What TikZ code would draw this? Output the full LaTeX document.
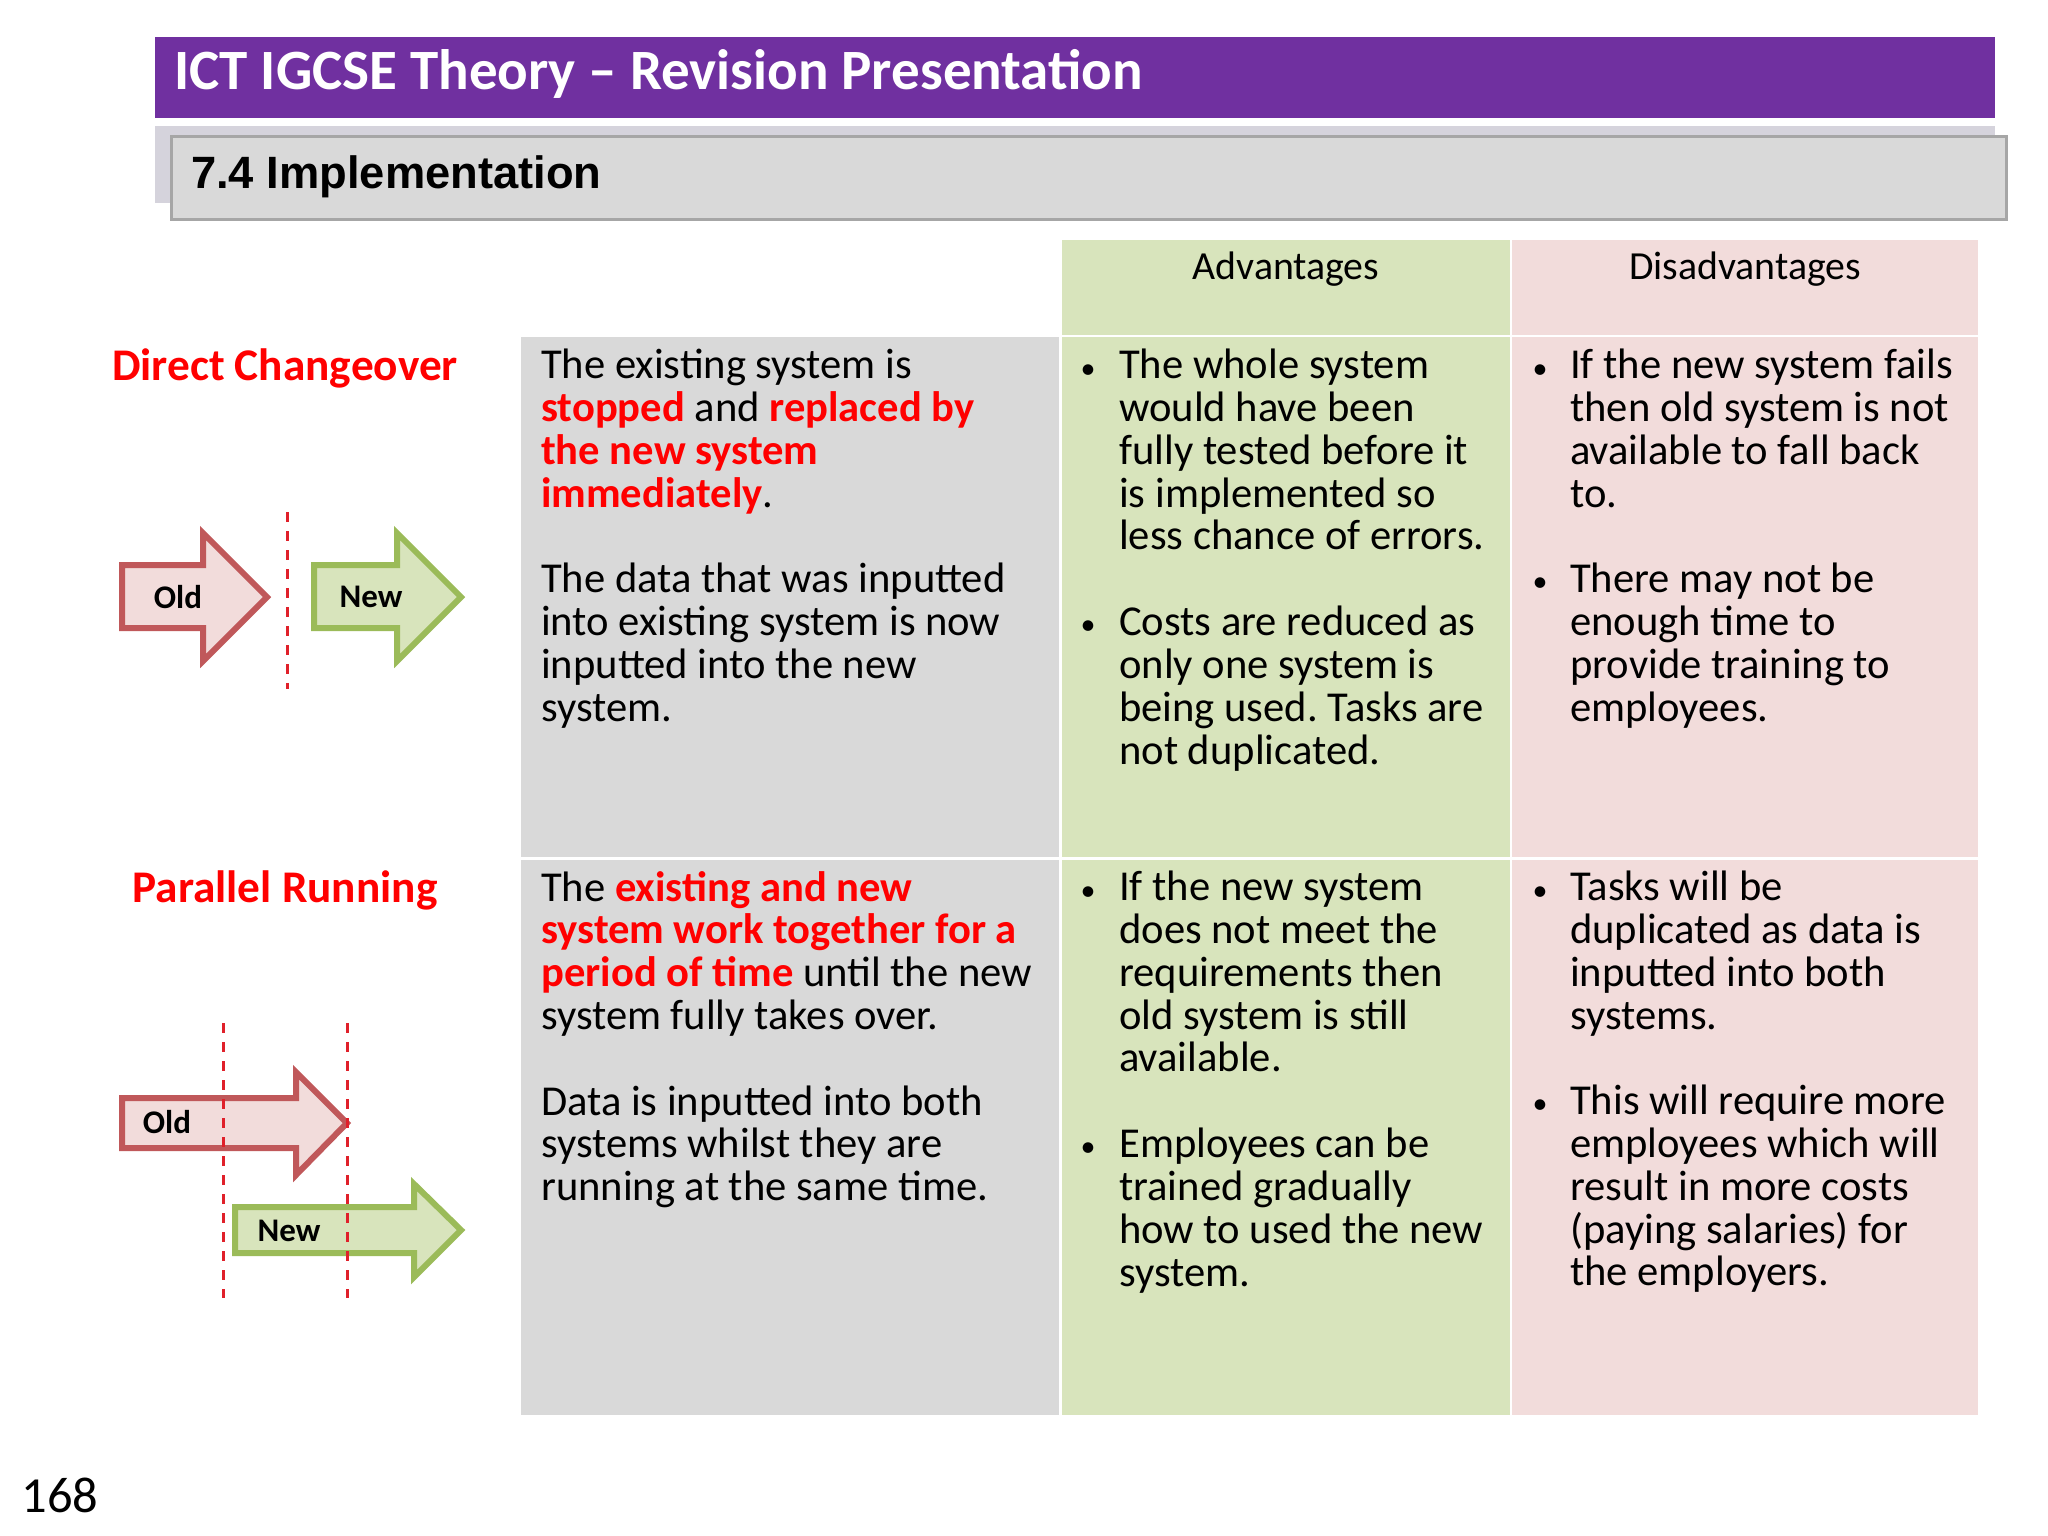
\documentclass[tikz,border=0pt]{standalone}
\usepackage{fontspec}
\setmainfont{Carlito}
\newfontfamily\subfont{Liberation Sans}
\definecolor{titlepurple}{HTML}{7030A0}
\definecolor{sublilac}{HTML}{D5D3DC}
\definecolor{cellgray}{HTML}{D9D9D9}
\definecolor{cellgreen}{HTML}{D8E4BC}
\definecolor{cellpink}{HTML}{F2DCDB}
\definecolor{oldline}{HTML}{C0585A}
\definecolor{newline}{HTML}{9BBB59}
\definecolor{cutred}{HTML}{E0202A}
\newcommand{\hot}[1]{{\bfseries\color{red}#1}}
\tikzset{
    celltext/.style={anchor=north west,inner sep=0pt,align=left,font=\fontsize{42.6}{42.8}\selectfont\frenchspacing,execute at begin node=\rule{0pt}{34pt}},
    headtext/.style={inner sep=0pt,font=\fontsize{39.8}{44}\selectfont},
    dot/.style={inner sep=0pt,font=\fontsize{30}{32}\selectfont},
    methodname/.style={inner sep=0pt,text=red,font=\fontsize{45.3}{50}\selectfont\bfseries},
    arrowname/.style={inner sep=0pt,font=\fontsize{33}{36}\selectfont\bfseries},
    oldarrow/.style={draw=oldline,fill=cellpink,line width=6pt,miter limit=10},
    newarrow/.style={draw=newline,fill=cellgreen,line width=6pt,miter limit=10},
    cutline/.style={cutred,line width=3pt,dash pattern=on 10pt off 9pt},
}
\begin{document}
\begin{tikzpicture}[x=1pt,y=-1pt]
    \useasboundingbox (0,0) rectangle (2048,1536);
    % banner
    \fill[titlepurple] (155,37) rectangle (1995,118);
    \fill[sublilac]    (155,126) rectangle (1995,203);
    \draw[draw=black!35,fill=cellgray,line width=3pt] (171,137) rectangle (2006,219);
    \node[anchor=west,inner sep=0pt,text=white,font=\fontsize{57}{60}\selectfont\bfseries] (title) at (174,73.5) {ICT IGCSE Theory – Revision Presentation};
    \node[anchor=west,inner sep=0pt,font=\fontsize{45.3}{50}\subfont\bfseries] (subtitle) at (191,177) {7.4 Implementation};
    % table
    \fill[cellgreen] (1062,240) rectangle (1510,335);
    \fill[cellpink]  (1512,240) rectangle (1978,335);
    \fill[cellgray]  (521,337)  rectangle (1059,857);
    \fill[cellgreen] (1062,337) rectangle (1510,857);
    \fill[cellpink]  (1512,337) rectangle (1978,857);
    \fill[cellgray]  (521,860)  rectangle (1059,1415);
    \fill[cellgreen] (1062,860) rectangle (1510,1415);
    \fill[cellpink]  (1512,860) rectangle (1978,1415);
    \node[headtext] (advhead) at (1286,269) {Advantages};
    \node[headtext] (dishead) at (1745,269) {Disadvantages};
    % first row
    \node[methodname] (direct) at (285,368) {Direct Changeover};
    \node[celltext] (directtext) at (541,349) {The existing system is\\\hot{stopped} and \hot{replaced by}\\\hot{the new system}\\\hot{immediately}.\\[42.8pt]The data that was inputted\\into existing system is now\\inputted into the new\\system.};
    \node[dot] (da1) at (1088,372) {•};
    \node[celltext] (directadv1) at (1119,349) {The whole system\\would have been\\fully tested before it\\is implemented so\\less chance of errors.};
    \node[dot] (da2) at (1088,628) {•};
    \node[celltext] (directadv2) at (1119,606) {Costs are reduced as\\only one system is\\being used. Tasks are\\not duplicated.};
    \node[dot] (dd1) at (1540,372) {•};
    \node[celltext] (directdis1) at (1570,349) {If the new system fails\\then old system is not\\available to fall back\\to.};
    \node[dot] (dd2) at (1540,585) {•};
    \node[celltext] (directdis2) at (1570,563) {There may not be\\enough time to\\provide training to\\employees.};
    % second row
    \node[methodname] (parallel) at (285,890) {Parallel Running};
    \node[celltext] (paralleltext) at (541,871) {The \hot{existing and new}\\\hot{system work together for a}\\\hot{period of time} until the new\\system fully takes over.\\[42.8pt]Data is inputted into both\\systems whilst they are\\running at the same time.};
    \node[dot] (pa1) at (1088,894) {•};
    \node[celltext] (paralleladv1) at (1119,871) {If the new system\\does not meet the\\requirements then\\old system is still\\available.};
    \node[dot] (pa2) at (1088,1150) {•};
    \node[celltext] (paralleladv2) at (1119,1128) {Employees can be\\trained gradually\\how to used the new\\system.};
    \node[dot] (pd1) at (1540,894) {•};
    \node[celltext] (paralleldis1) at (1570,871) {Tasks will be\\duplicated as data is\\inputted into both\\systems.};
    \node[dot] (pd2) at (1540,1107) {•};
    \node[celltext] (paralleldis2) at (1570,1085) {This will require more\\employees which will\\result in more costs\\(paying salaries) for\\the employers.};
    % direct arrows
    \draw[oldarrow] (122,565) -- (203,565) -- (203,533) -- (267,597) -- (203,661) -- (203,628) -- (122,628) -- cycle;
    \draw[newarrow] (314,565) -- (397,565) -- (397,533) -- (461,597) -- (397,661) -- (397,628) -- (314,628) -- cycle;
    \draw[cutline] (287,512) -- (287,689);
    \node[arrowname] (old1) at (178,597) {Old};
    \node[arrowname] (new1) at (371,597) {New};
    % parallel arrows
    \draw[oldarrow] (122,1098) -- (296,1098) -- (296,1072) -- (347,1123) -- (296,1175) -- (296,1148) -- (122,1148) -- cycle;
    \draw[newarrow] (235,1207) -- (414,1207) -- (414,1184) -- (461,1230) -- (414,1277) -- (414,1253) -- (235,1253) -- cycle;
    \draw[cutline] (223,1023) -- (223,1298);
    \draw[cutline] (347,1023) -- (347,1298);
    \node[arrowname] (old2) at (167,1122) {Old};
    \node[arrowname] (new2) at (289,1231) {New};
    % page number
    \node[inner sep=0pt,font=\fontsize{50.5}{56}\selectfont] (pagenum) at (60,1495) {168};
\end{tikzpicture}
\end{document}
